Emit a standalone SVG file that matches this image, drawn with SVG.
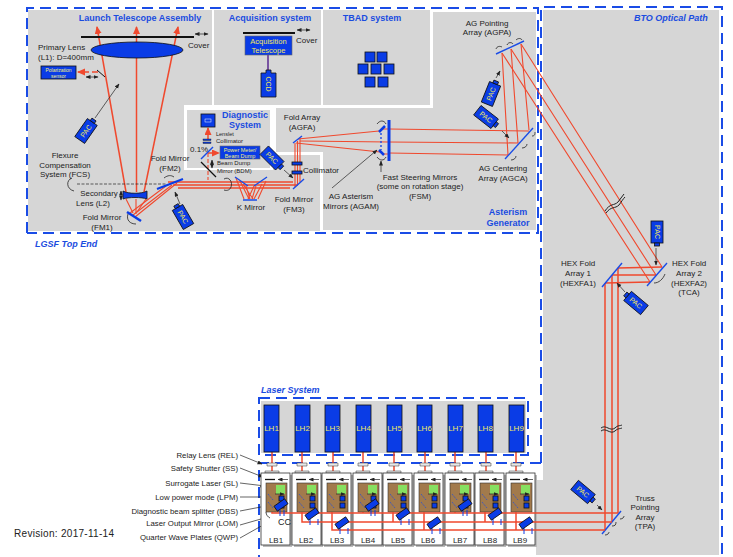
<svg xmlns="http://www.w3.org/2000/svg" xmlns:xlink="http://www.w3.org/1999/xlink" width="733" height="557" viewBox="0 0 733 557">
<style>
text{font-family:"Liberation Sans",Arial,sans-serif;font-size:8px;fill:#222}
.c{text-anchor:middle}
.r{text-anchor:end;font-size:7.800px}
.t{font-weight:bold;fill:#1a4ce0;font-size:9px;text-anchor:middle}
.i{font-weight:bold;font-style:italic;fill:#1a4ce0;font-size:9px}
.y{fill:#f2e85a;text-anchor:middle;font-size:7px}
.w{fill:#f4f07a;text-anchor:middle;font-size:5px}
.g{fill:#d6d6d6}
.d{fill:none;stroke:#1a4ce6;stroke-width:2;stroke-dasharray:11 6}
.b{fill:#0a3ce6;stroke:#111;stroke-width:.8}
.bs{fill:#0a3ce6;stroke:#666;stroke-width:.6}
.m{stroke:#1a4ce6;stroke-width:1.4;fill:none}
.mt{stroke:#0a3ce6;stroke-width:3;fill:none}
.red{stroke:#f0492e;stroke-width:1.1;fill:none}
.red2{stroke:#f0492e;stroke-width:1.5;fill:none}
.k{stroke:#222;stroke-width:.7;fill:none}
.ka{stroke:#222;stroke-width:.7;fill:none;marker-end:url(#ah)}
.da{stroke:#222;stroke-width:.7;fill:none;marker-end:url(#ah);marker-start:url(#ahs)}
.arc{stroke:#222;stroke-width:.8;fill:none}
</style>
<defs>
<marker id="ah" markerWidth="5" markerHeight="5" refX="4.500" refY="2" orient="auto" markerUnits="userSpaceOnUse"><path d="M0 0L5 2L0 4z" fill="#222"/></marker>
<marker id="ahs" markerWidth="5" markerHeight="5" refX=".5" refY="2" orient="auto" markerUnits="userSpaceOnUse"><path d="M5 0L0 2L5 4z" fill="#222"/></marker>
<marker id="rh" markerWidth="8" markerHeight="8" refX="7" refY="3.500" orient="auto" markerUnits="userSpaceOnUse"><path d="M0 0L8 3.500L0 7z" fill="#f0492e"/></marker>
<g id="pacR"><rect x="-11" y="-6" width="22" height="12" class="b"/><rect x="11" y="-2.500" width="3" height="5" class="b"/><text class="y" y="2.500">PAC</text></g>
<g id="pacL"><rect x="-11" y="-6" width="22" height="12" class="b"/><rect x="-14" y="-2.500" width="3" height="5" class="b"/><text class="y" y="2.500">PAC</text></g>
<g id="smallpac"><rect x="-6.500" y="-3" width="13" height="6" class="b"/></g>
<g id="card">
<rect x="2" y="2" width="29" height="72" fill="#bbb"/>
<rect width="29" height="72" fill="#fff" stroke="#333" stroke-width=".8"/>
<rect x="5" y="10" width="21" height="29" fill="#a27a4c" stroke="#333" stroke-width=".6"/>
<rect x="15" y="12" width="9" height="9" fill="#86e060"/>
<path d="M4 6.500H14" stroke="#111" stroke-width="1.300"/>
<path d="M17 6.500H27M14 21H23" class="da"/>
<rect x="18" y="23" width="5" height="5" class="b"/>
<rect x="18" y="30" width="5" height="5" class="b"/>
<path d="M7 21L12 27M7 29L12 35" stroke="#1a4ce6" stroke-width=".7" stroke-dasharray="2 1" fill="none"/>
</g>
</defs>
<rect width="733" height="557" fill="#fff"/>

<g id="backgrounds">
<path class="g" d="M28 10H212V105H184V170H273V155H320V231H28z"/>
<rect class="g" x="214" y="10" width="107" height="95"/>
<rect class="g" x="323" y="10" width="107" height="95"/>
<path class="g" d="M433 12H536V230H323V152H276V108H433z"/>
<rect class="g" x="187" y="110" width="83" height="58"/>
<path class="g" d="M543 10H719V555H536V480H543z"/>
<rect class="g" x="261" y="401" width="265" height="52"/>
</g>

<g id="boundaries">
<path class="d" d="M27 233V8H538V233H27"/>
<path class="d" d="M541 463V7H722V557"/>
<path class="d" d="M541 463H259V557"/>
<path class="d" d="M259 398H528V455H259z"/>
</g>

<g id="connectors">
<path class="red2" d="M126 192L97 27" marker-end="url(#rh)"/>
<path class="red2" d="M136.500 192V27" marker-end="url(#rh)"/>
<path class="red2" d="M144 192L178 27" marker-end="url(#rh)"/>
<path class="red" d="M126 199L133 213M136 199V214M146 199L137 212"/>
<path class="red" d="M130 213L166 186M133 215L172 185M135 217L177 183"/>
<path class="red2" d="M168 182H293M173 185H298M178 188H290"/>
<path class="red" d="M236 178L244 199M240 181L249 199M243 184L253 199M254 199L262 184M258 199L266 181M248 199L254 186M246 186L250 199M256 186L252 199"/>
<path class="red" d="M295 187V143M297.500 185V141M300 182V138"/>
<path class="red" d="M298 139L379 131M300 141L389 142M296 143L380 152"/>
<path class="red" d="M383 129H389M383 154H389"/>
<path class="red" d="M389 129L529 131M389 142L518 143M389 153L508 155"/>
<path class="red" d="M508 155L502 53M518 143L511 49M529 130L521 44"/>
<path class="red" d="M502 53L650 282M511 49L656 275M521 44L662 267"/>
<path class="red2" d="M662 267L618 268M656 275L612 275M650 282L605 283"/>
<path class="red2" d="M605 283V530M612 275V522M618 268V513"/>
<path class="red2" d="M272 452V478M302 452V478M333 452V478M363 452V478M394 452V478M425 452V478M455 452V478M486 452V478M516 452V478"/>
<path class="red2" d="M208 139V128" marker-end="url(#rh)"/>
<path class="red" d="M208 153V180" stroke-dasharray="4 2"/>
<path class="red2" d="M208 153H219" stroke-dasharray="4 2" marker-end="url(#rh)"/>
<path class="red2" d="M98 72H78" stroke-dasharray="6 3" marker-end="url(#rh)"/>
<path stroke="#5a2a90" stroke-width="1.500" fill="none" d="M268 55V70"/>
<path class="ka" d="M95 118L119 84"/>
<path class="ka" d="M180 204L175 192"/>
<path class="ka" d="M284 170L293 178"/>
<path class="ka" d="M496 78L500 71"/>
<path class="ka" d="M502 131L509 138"/>
<path class="ka" d="M656 248V265"/>
<path class="ka" d="M625 292L617 283"/>
<path class="ka" d="M597 505L602 510"/>
<path class="ka" d="M332 188L377 150"/>
<path class="ka" d="M381 172V161"/>
<path class="k" d="M77 184H167" stroke-dasharray="3 1.500"/>
<path class="da" d="M195 34H208"/><path class="da" d="M297 30H310"/><path class="da" d="M86 77H98"/>
<path class="da" d="M121 191V200"/><path class="da" d="M212 160V168"/>
<path class="arc" d="M72 178C66 180 66 189 74 191"/>
<path class="arc" d="M128 214C126 220 130 224 136 224"/>
<path class="arc" d="M164 178C168 175 171 175 174 177"/>
<path class="arc" d="M224 179C229 176 233 182 231 187 230 190 227 191 224 190"/>
<path class="arc" d="M654 283C659 283 663 279 665 274"/>
<path class="arc" d="M377 124C380 120 384 120 386 124M377 157C380 161 384 161 386 157"/>
<path class="arc" d="M496 49C497 46 500 46 502 47M507 45C508 42 512 42 513 44M516 40C518 38 521 38 522 40"/>
<path class="arc" d="M511 160C514 160 516 158 516 156M522 148C525 148 527 146 527 144M532 136C535 136 535 134 535 132"/>
<path class="arc" d="M605 535C608 535 609 533 609 532M612 526C615 526 616 525 616 522M620 519C623 519 624 517 624 516"/>
<path class="k" d="M605 211C610 203 614 206 618 202 620 199 622 197 624 194M606 213C611 206 615 209 619 205 622 201 623 199 625 197" style="stroke-width:1"/>
<path class="k" d="M601 428C606 424 610 432 615 428 618 425 620 426 622 425M601 431C606 427 610 435 615 431 618 428 620 429 622 428" style="stroke-width:1"/>
</g>

<g id="leaders">
<path class="ka" d="M240 455L262 464"/><path class="ka" d="M240 468L263 477"/>
<path class="ka" d="M240 483L265 486"/><path class="ka" d="M240 497H266"/>
<path class="k" d="M240 511L266 506"/><path class="ka" d="M240 525L268 517"/>
<path class="ka" d="M240 538L272 520"/>
</g>

<g id="L1"><path stroke="#111" stroke-width="2" d="M81 37H194"/><ellipse cx="137" cy="50" rx="46" ry="8" class="b"/><text x="38" y="50">Primary Lens</text><text x="38" y="60">(L1): D=400mm</text><text x="188" y="48">Cover</text></g>
<g id="polarization"><rect x="41" y="66" width="35" height="13" class="b"/><text class="w" x="58.500" y="71.500">Polarization</text><text class="w" x="58.500" y="77.500">sensor</text><path d="M97 70L105 77" stroke="#111" stroke-width="1"/></g>
<g id="titles">
<text class="t" x="140" y="21">Launch Telescope Assembly</text>
<text class="t" x="270" y="21">Acquisition system</text>
<text class="t" x="372" y="21">TBAD system</text>
<text class="t" x="245" y="118">Diagnostic</text><text class="t" x="245" y="128">System</text>
<text class="t" x="508" y="215">Asterism</text><text class="t" x="508" y="226">Generator</text>
<text class="i" x="634" y="21">BTO Optical Path</text>
<text class="i" x="35" y="247">LGSF Top End</text>
<text class="i" x="261" y="393">Laser System</text>
</g>
<g id="acquisition"><path stroke="#111" stroke-width="2" d="M243 33H295"/><rect x="245" y="36" width="47" height="19" class="bs"/><text class="y" style="font-size:7.500px" x="268.500" y="44">Acquisition</text><text class="y" style="font-size:7.500px" x="268.500" y="53">Telescope</text><text x="296" y="43">Cover</text></g>
<g id="ccd"><path class="b" d="M261 73H266V70H271V73H276V97H261z"/><text class="y" transform="translate(266,84) rotate(90)">CCD</text></g>
<g id="tbad">
<rect class="b" x="365" y="52" width="10" height="10"/><rect class="b" x="377" y="52" width="10" height="10"/>
<rect class="b" x="358" y="64" width="10" height="10"/><rect class="b" x="371" y="64" width="10" height="10"/><rect class="b" x="384" y="64" width="10" height="10"/>
<rect class="b" x="365" y="77" width="10" height="10"/><rect class="b" x="378" y="77" width="10" height="10"/>
</g>
<g id="FCS"><text class="c" x="65" y="158">Flexure</text><text class="c" x="65" y="168">Compensation</text><text class="c" x="65" y="177">System (FCS)</text></g>
<g id="L2"><path class="b" d="M123 191C128 194 142 194 147 191V199C142 197 128 197 123 199z"/><text class="c" style="font-size:7.800px" x="99" y="196">Secondary</text><text class="c" x="93" y="206">Lens (L2)</text></g>
<g id="FM1"><path d="M127 212L141 221" stroke="#0a3ce6" stroke-width="2.500"/><text class="c" x="102" y="220">Fold Mirror</text><text class="c" x="102" y="230">(FM1)</text></g>
<g id="FM2"><path d="M157 189L183 179" stroke="#0a3ce6" stroke-width="2"/><text class="c" x="170" y="161">Fold Mirror</text><text class="c" x="170" y="171">(FM2)</text></g>
<g id="diagnostic">
<rect x="201" y="114" width="14" height="13" class="b"/><rect x="205" y="119" width="6" height="3" fill="none" stroke="#fff" stroke-width=".5"/>
<text style="font-size:5.500px" x="216" y="135.500">Lenslet</text>
<rect x="203" y="139" width="8" height="1.500" fill="#0a3ce6" stroke="#111" stroke-width=".4"/><rect x="203" y="142" width="8" height="1.500" fill="#0a3ce6" stroke="#111" stroke-width=".4"/>
<text style="font-size:6px" x="216" y="142.500">Collimator</text>
<text x="190" y="152">0.1%</text>
<rect x="220" y="146" width="40" height="13" class="bs"/><text class="w" style="font-size:5.500px" x="240" y="151.500">Power Meter/</text><text class="w" style="font-size:5.500px" x="240" y="157.500">Beam Dump</text>
<path class="m" d="M201 159L213 147"/><path d="M201 162L216 177" stroke="#111" stroke-width="1.300"/>
<text style="font-size:6px" x="217" y="165">Beam Dump</text><text style="font-size:6px" x="217" y="173">Mirror (BDM)</text>
</g>
<g id="kmirror"><path class="m" d="M235 177L248 186M254 186L267 177M243 200H257"/><text class="c" x="251" y="210">K Mirror</text></g>
<g id="FM3"><path class="m" d="M293 189L304 179"/><rect x="292" y="162" width="10" height="3" class="b"/><rect x="292" y="171" width="10" height="3" class="b"/><text x="303" y="173">Collimator</text><text class="c" x="294" y="202">Fold Mirror</text><text class="c" x="294" y="212">(FM3)</text></g>
<g id="AGFA"><path class="m" d="M293 143L302 136"/><text class="c" x="302" y="120">Fold Array</text><text class="c" x="302" y="130">(AGFA)</text></g>
<g id="AGAM"><path stroke="#0a3ce6" stroke-width="2.500" d="M379 132L385 126M379 150L384 155"/><path class="m" d="M381 133V150" stroke-dasharray="2 2"/><text class="c" x="351" y="199">AG Asterism</text><text class="c" x="351" y="209">Mirrors (AGAM)</text></g>
<g id="FSM"><path class="mt" d="M389 120V161"/><text class="c" x="420" y="180">Fast Steering Mirrors</text><text class="c" x="420" y="189">(some on rotation stage)</text><text class="c" x="420" y="199">(FSM)</text></g>
<g id="AGCA"><path class="m" d="M505 159L533 128"/><text class="c" x="503" y="171">AG Centering</text><text class="c" x="503" y="181">Array (AGCA)</text></g>
<g id="AGPA"><path class="m" d="M496 54L524 41"/><text class="c" x="487" y="26">AG Pointing</text><text class="c" x="487" y="35">Array (AGPA)</text></g>
<g id="HEXFA1"><path class="m" d="M602 287L622 263"/><text class="c" x="578" y="266">HEX Fold</text><text class="c" x="578" y="276">Array 1</text><text class="c" x="578" y="286">(HEXFA1)</text></g>
<g id="HEXFA2"><path class="m" d="M647 286L667 263"/><text class="c" x="689" y="266">HEX Fold</text><text class="c" x="689" y="276">Array 2</text><text class="c" x="689" y="286">(HEXFA2)</text><text class="c" x="689" y="295">(TCA)</text></g>
<g id="TPA"><path class="m" d="M602 534L621 511"/><text class="c" x="645" y="501">Truss</text><text class="c" x="645" y="510">Pointing</text><text class="c" x="645" y="520">Array</text><text class="c" x="645" y="529">(TPA)</text></g>

<g id="pacs">
<use xlink:href="#pacR" href="#pacR" transform="translate(86,131) rotate(-55)"/>
<use xlink:href="#pacL" href="#pacL" transform="translate(183,217) rotate(60)"/>
<use xlink:href="#pacR" href="#pacR" transform="translate(272,158) rotate(45)"/>
<use xlink:href="#pacR" href="#pacR" transform="translate(491,94) rotate(-68)"/>
<use xlink:href="#pacR" href="#pacR" transform="translate(486,117) rotate(38)"/>
<use xlink:href="#pacR" href="#pacR" transform="translate(657,232) rotate(90)"/>
<use xlink:href="#pacL" href="#pacL" transform="translate(636,303) rotate(40)"/>
<use xlink:href="#pacR" href="#pacR" transform="translate(583,492) rotate(40)"/>
</g>

<g id="laser-heads">
<g id="LH1"><rect x="264" y="405" width="15" height="47" class="b"/><text class="y" style="font-size:8px" x="271.500" y="431">LH1</text></g>
<g id="LH2"><rect x="295" y="405" width="15" height="47" class="b"/><text class="y" style="font-size:8px" x="302.500" y="431">LH2</text></g>
<g id="LH3"><rect x="325" y="405" width="15" height="47" class="b"/><text class="y" style="font-size:8px" x="332.500" y="431">LH3</text></g>
<g id="LH4"><rect x="356" y="405" width="15" height="47" class="b"/><text class="y" style="font-size:8px" x="363.500" y="431">LH4</text></g>
<g id="LH5"><rect x="387" y="405" width="15" height="47" class="b"/><text class="y" style="font-size:8px" x="394.500" y="431">LH5</text></g>
<g id="LH6"><rect x="417" y="405" width="15" height="47" class="b"/><text class="y" style="font-size:8px" x="424.500" y="431">LH6</text></g>
<g id="LH7"><rect x="448" y="405" width="15" height="47" class="b"/><text class="y" style="font-size:8px" x="455.500" y="431">LH7</text></g>
<g id="LH8"><rect x="478" y="405" width="15" height="47" class="b"/><text class="y" style="font-size:8px" x="485.500" y="431">LH8</text></g>
<g id="LH9"><rect x="509" y="405" width="15" height="47" class="b"/><text class="y" style="font-size:8px" x="516.500" y="431">LH9</text></g>
</g>

<g id="relay-lenses" fill="#e8e8e8" stroke="#333" stroke-width=".5">
<path d="M267 463h10v3h-10zM265 471h14v2h-14zM297 463h10v3h-10zM295 471h14v2h-14zM328 463h10v3h-10zM326 471h14v2h-14zM358 463h10v3h-10zM356 471h14v2h-14zM389 463h10v3h-10zM387 471h14v2h-14zM420 463h10v3h-10zM418 471h14v2h-14zM450 463h10v3h-10zM448 471h14v2h-14zM481 463h10v3h-10zM479 471h14v2h-14zM511 463h10v3h-10zM509 471h14v2h-14z"/>
</g>

<g id="benches">
<g id="LB1"><use xlink:href="#card" href="#card" x="261" y="473"/><text class="c" x="276" y="543">LB1</text></g>
<g id="LB2"><use xlink:href="#card" href="#card" x="292" y="473"/><text class="c" x="306" y="543">LB2</text></g>
<g id="LB3"><use xlink:href="#card" href="#card" x="322" y="473"/><text class="c" x="337" y="543">LB3</text></g>
<g id="LB4"><use xlink:href="#card" href="#card" x="353" y="473"/><text class="c" x="368" y="543">LB4</text></g>
<g id="LB5"><use xlink:href="#card" href="#card" x="383" y="473"/><text class="c" x="398" y="543">LB5</text></g>
<g id="LB6"><use xlink:href="#card" href="#card" x="414" y="473"/><text class="c" x="428" y="543">LB6</text></g>
<g id="LB7"><use xlink:href="#card" href="#card" x="445" y="473"/><text class="c" x="460" y="543">LB7</text></g>
<g id="LB8"><use xlink:href="#card" href="#card" x="475" y="473"/><text class="c" x="490" y="543">LB8</text></g>
<g id="LB9"><use xlink:href="#card" href="#card" x="506" y="473"/><text class="c" x="520" y="543">LB9</text></g>
</g>

<g id="bench-beams">
<path class="red2" d="M272 512V513H618M302 512V522H612M332 512V530H605M363 512V513M393 512V522M424 512V530M455 512V513M485 512V522M516 512V530"/>
<path class="arc" d="M266 512C266 515 268 517 270 518"/>
<path stroke="#0a3ce6" stroke-width="1" fill="none" d="M280 510V516M284 510V516M310 519V525M318 519V525M340 528V534M348 528V534M371 510V516M375 510V516M401 519V525M409 519V525M432 528V534M440 528V534M463 510V516M467 510V516M493 519V525M501 519V525M524 528V534M532 528V534"/>
<use xlink:href="#smallpac" href="#smallpac" transform="translate(281,505) rotate(-35)"/>
<use xlink:href="#smallpac" href="#smallpac" transform="translate(312,514) rotate(-35)"/>
<use xlink:href="#smallpac" href="#smallpac" transform="translate(342,523) rotate(-35)"/>
<use xlink:href="#smallpac" href="#smallpac" transform="translate(372,505) rotate(-35)"/>
<use xlink:href="#smallpac" href="#smallpac" transform="translate(403,514) rotate(-35)"/>
<use xlink:href="#smallpac" href="#smallpac" transform="translate(434,523) rotate(-35)"/>
<use xlink:href="#smallpac" href="#smallpac" transform="translate(465,505) rotate(-35)"/>
<use xlink:href="#smallpac" href="#smallpac" transform="translate(495,514) rotate(-35)"/>
<use xlink:href="#smallpac" href="#smallpac" transform="translate(526,523) rotate(-35)"/>
<text style="font-size:9px" x="278" y="525">CC</text>
</g>

<g id="laser-labels">
<text class="r" x="238" y="458">Relay Lens (REL)</text>
<text class="r" x="238" y="471">Safety Shutter (SS)</text>
<text class="r" x="238" y="486">Surrogate Laser (SL)</text>
<text class="r" x="238" y="500">Low power mode (LPM)</text>
<text class="r" x="238" y="514">Diagnostic beam splitter (DBS)</text>
<text class="r" x="238" y="526">Laser Output Mirror (LOM)</text>
<text class="r" x="238" y="540">Quarter Wave Plates (QWP)</text>
</g>
<text id="revision" x="14" y="537" style="font-size:10px;letter-spacing:.3px">Revision: 2017-11-14</text>
</svg>
